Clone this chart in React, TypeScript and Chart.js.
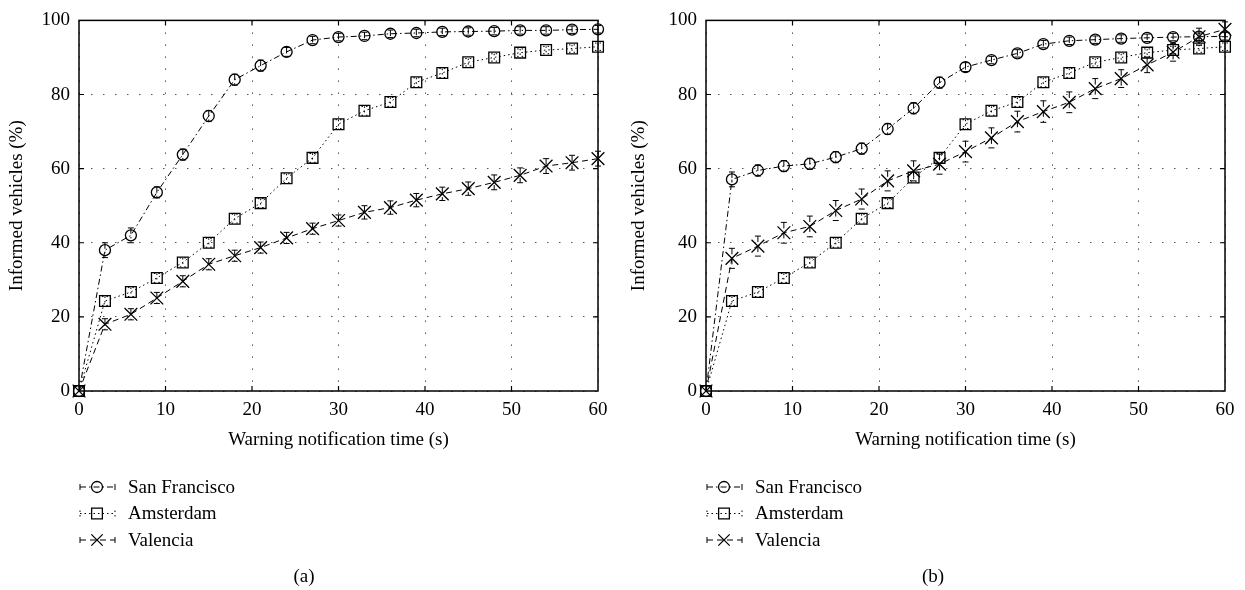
import React, { useEffect, useRef } from 'react';
import { Chart, registerables } from 'chart.js';

Chart.register(...registerables);

// ---------------- data ----------------
const times = [0, 3, 6, 9, 12, 15, 18, 21, 24, 27, 30, 33, 36, 39, 42, 45, 48, 51, 54, 57, 60];
const seriesNames = ['San Francisco', 'Amsterdam', 'Valencia'];
const xTicks = [0, 10, 20, 30, 40, 50, 60];
const yTicks = [0, 20, 40, 60, 80, 100];

// panel (a)
const sfA = [0, 38, 42, 53.6, 63.8, 74.2, 84, 87.8, 91.5, 94.7, 95.5, 95.8, 96.4, 96.6, 96.9, 97, 97.1, 97.3, 97.3, 97.5, 97.6];
const amsA = [0, 24.3, 26.7, 30.5, 34.7, 40, 46.5, 50.7, 57.4, 62.9, 72, 75.6, 78, 83.3, 85.8, 88.7, 90, 91.3, 92, 92.4, 92.9];
const valA = [0, 18, 20.7, 25.1, 29.6, 34.2, 36.5, 38.7, 41.3, 43.8, 46, 48.2, 49.5, 51.5, 53.2, 54.6, 56.3, 58.2, 60.7, 61.6, 62.7];
const sfErrA = [0, 2, 2, 1.5, 1.5, 1.5, 1.5, 1.5, 1.2, 1, 1, 1, 1, 1, 1, 1, 1, 1, 1, 1, 1];
const amsErrA = [0, 1.2, 1.2, 1.2, 1.2, 1.2, 1.2, 1.2, 1.2, 1.2, 1.2, 1.2, 1.2, 1.2, 1.2, 1, 1, 1, 1, 1, 1];
const valErrA = [0, 1.5, 1.5, 1.5, 1.5, 1.5, 1.5, 1.5, 1.5, 1.5, 1.5, 1.8, 1.8, 1.8, 1.8, 1.8, 2, 2, 2, 2, 2];

// panel (b)
const sfB = [0, 57.1, 59.5, 60.7, 61.3, 63.1, 65.4, 70.7, 76.3, 83.2, 87.4, 89.3, 91.1, 93.6, 94.5, 94.8, 95.1, 95.3, 95.5, 95.6, 95.7];
const amsB = [0, 24.3, 26.7, 30.5, 34.7, 40, 46.5, 50.7, 57.6, 62.9, 72, 75.6, 78, 83.3, 85.8, 88.7, 90, 91.3, 92, 92.4, 92.9];
const valB = [0, 35.8, 39.1, 42.7, 44.4, 48.7, 51.8, 56.7, 59.4, 61.2, 64.6, 68.3, 72.7, 75.4, 77.9, 81.6, 84.3, 88, 91.4, 95.6, 97.6];
const sfErrB = [0, 2, 1.5, 1.5, 1.5, 1.5, 1.5, 1.5, 1.5, 1.5, 1.2, 1, 1, 1, 1, 1, 1, 1, 1, 1, 1];
const amsErrB = [0, 1.2, 1.2, 1.2, 1.2, 1.2, 1.2, 1.2, 1.2, 1.2, 1.2, 1.2, 1.2, 1.2, 1.2, 1, 1, 1, 1, 1, 1];
const valErrB = [0, 2.7, 2.7, 2.8, 2.8, 2.7, 2.7, 2.7, 2.7, 2.7, 2.8, 2.7, 2.8, 2.9, 2.8, 2.7, 2.4, 2.1, 2.4, 2.3, 2];

// ---------------- styles ----------------
const FONT_FAMILY = "'Liberation Serif', 'Times New Roman', serif";
const FONT_SIZE = 19;
const seriesStyles = [
  { dash: [6, 3, 1.5, 3], point: 'circle', radius: 5.5 },
  { dash: [1.5, 3], point: 'rect', radius: 7.6 },
  { dash: [6, 4], point: 'crossRot', radius: 9 },
];

function drawMarker(ctx: CanvasRenderingContext2D, style: string, r: number, x: number, y: number) {
  ctx.beginPath();
  if (style === 'circle') {
    ctx.arc(x, y, r, 0, Math.PI * 2);
  } else if (style === 'rect') {
    const s = Math.SQRT1_2 * r;
    ctx.rect(x - s, y - s, 2 * s, 2 * s);
  } else {
    const o = Math.SQRT1_2 * r;
    ctx.moveTo(x - o, y - o);
    ctx.lineTo(x + o, y + o);
    ctx.moveTo(x + o, y - o);
    ctx.lineTo(x - o, y + o);
  }
  ctx.stroke();
}

const errorBarPlugin = {
  id: 'errorBars',
  afterDatasetsDraw(chart: any) {
    const { ctx, scales } = chart;
    const xs = scales.x;
    const ys = scales.y;
    ctx.save();
    ctx.strokeStyle = '#000';
    ctx.lineWidth = 1;
    chart.data.datasets.forEach((ds: any) => {
      const errs: number[] = ds.errors || [];
      ctx.setLineDash(ds.borderDash || []);
      ds.data.forEach((p: any, i: number) => {
        const e = errs[i];
        if (!e) return;
        const px = xs.getPixelForValue(p.x);
        const top = ys.getPixelForValue(p.y + e);
        const bot = ys.getPixelForValue(p.y - e);
        ctx.beginPath();
        ctx.moveTo(px, top);
        ctx.lineTo(px, bot);
        ctx.moveTo(px - 3, top);
        ctx.lineTo(px + 3, top);
        ctx.moveTo(px - 3, bot);
        ctx.lineTo(px + 3, bot);
        ctx.stroke();
      });
    });
    ctx.restore();
  },
};

const framePlugin = {
  id: 'frame',
  afterDraw(chart: any) {
    const { ctx, chartArea, scales } = chart;
    const { left, right, top, bottom } = chartArea;
    const opts = chart.options.plugins.frame || {};
    ctx.save();
    ctx.setLineDash([]);
    ctx.strokeStyle = '#000';
    // inward ticks
    ctx.lineWidth = 1.2;
    ctx.beginPath();
    scales.x.ticks.forEach((t: any) => {
      const px = scales.x.getPixelForValue(t.value);
      if (px <= left + 1 || px >= right - 1) return;
      ctx.moveTo(px, bottom);
      ctx.lineTo(px, bottom - 5);
      ctx.moveTo(px, top);
      ctx.lineTo(px, top + 5);
    });
    scales.y.ticks.forEach((t: any) => {
      const py = scales.y.getPixelForValue(t.value);
      if (py <= top + 1 || py >= bottom - 1) return;
      ctx.moveTo(left, py);
      ctx.lineTo(left + 5, py);
      ctx.moveTo(right, py);
      ctx.lineTo(right - 5, py);
    });
    ctx.stroke();
    // box
    ctx.lineWidth = 1.5;
    ctx.strokeRect(left, top, right - left, bottom - top);

    // legend
    ctx.font = `${FONT_SIZE}px ${FONT_FAMILY}`;
    ctx.fillStyle = '#000';
    ctx.textAlign = 'left';
    ctx.textBaseline = 'middle';
    chart.data.datasets.forEach((ds: any, i: number) => {
      const st = seriesStyles[i];
      const y = bottom + 96 + i * 26.5;
      const x0 = left + 1;
      const x1 = left + 36;
      const xm = left + 18;
      ctx.lineWidth = 1;
      ctx.setLineDash(st.dash);
      ctx.beginPath();
      ctx.moveTo(x0, y);
      ctx.lineTo(x1, y);
      ctx.moveTo(x0, y - 3);
      ctx.lineTo(x0, y + 3);
      ctx.moveTo(x1, y - 3);
      ctx.lineTo(x1, y + 3);
      ctx.stroke();
      ctx.setLineDash([]);
      ctx.lineWidth = 1.3;
      drawMarker(ctx, st.point, st.point === 'crossRot' ? 8 : st.radius, xm, y);
      ctx.fillText(ds.label, left + 49, y + 1);
    });

    // caption
    ctx.textAlign = 'center';
    ctx.fillText(opts.caption || '', opts.captionX || 0, 577);
    ctx.restore();
  },
};

type PanelProps = {
  values: number[][];
  errors: number[][];
  caption: string;
  captionX: number;
  yAxisWidth: number;
  padRight: number;
  width: number;
  left: number;
};

function Panel(props: PanelProps) {
  const ref = useRef<HTMLCanvasElement | null>(null);
  useEffect(() => {
    if (!ref.current) return;
    const font = { family: FONT_FAMILY, size: FONT_SIZE };
    const datasets = seriesNames.map((name, i) => ({
      label: name,
      data: times.map((t, k) => ({ x: t, y: props.values[i][k] })),
      errors: props.errors[i],
      borderColor: '#000',
      borderWidth: 1,
      borderDash: seriesStyles[i].dash,
      pointStyle: seriesStyles[i].point,
      pointRadius: seriesStyles[i].radius,
      pointBorderColor: '#000',
      pointBackgroundColor: 'rgba(0,0,0,0)',
      pointBorderWidth: 1.3,
      tension: 0,
      fill: false,
      clip: false,
    }));
    const chart = new Chart(ref.current, {
      type: 'line',
      data: { datasets } as any,
      options: {
        animation: false,
        responsive: false,
        events: [],
        layout: { padding: { top: 16, right: props.padRight, bottom: 137, left: 0 } },
        plugins: {
          legend: { display: false },
          tooltip: { enabled: false },
          frame: { caption: props.caption, captionX: props.captionX },
        } as any,
        scales: {
          x: {
            type: 'linear',
            min: 0,
            max: 60,
            afterBuildTicks: (s: any) => {
              s.ticks = xTicks.map((v) => ({ value: v }));
            },
            afterFit: (s: any) => {
              s.height = 62;
            },
            grid: { color: '#555', lineWidth: 1, drawTicks: false },
            border: { display: false, dash: [1.5, 10.5] },
            ticks: { color: '#000', font, padding: 8, maxRotation: 0 },
            title: {
              display: true,
              text: 'Warning notification time (s)',
              color: '#000',
              font,
              padding: { top: 2, bottom: 2 },
            },
          },
          y: {
            type: 'linear',
            min: 0,
            max: 100,
            afterBuildTicks: (s: any) => {
              s.ticks = yTicks.map((v) => ({ value: v }));
            },
            afterFit: (s: any) => {
              s.width = props.yAxisWidth;
            },
            grid: { color: '#555', lineWidth: 1, drawTicks: false },
            border: { display: false, dash: [1.5, 10.5] },
            ticks: { color: '#000', font, padding: 9 },
            title: {
              display: true,
              text: 'Informed vehicles (%)',
              color: '#000',
              font,
              padding: 6,
            },
          },
        },
      } as any,
      plugins: [errorBarPlugin, framePlugin],
    });
    return () => chart.destroy();
  }, []);
  return (
    <canvas
      ref={ref}
      width={props.width}
      height={590}
      style={{ position: 'absolute', left: props.left, top: 0, width: props.width, height: 590 }}
    />
  );
}

export default function App() {
  return (
    <div style={{ position: 'absolute', left: 0, top: 0, width: 1245, height: 590, background: '#fff' }}>
      <Panel
        values={[sfA, amsA, valA]}
        errors={[sfErrA, amsErrA, valErrA]}
        caption="(a)"
        captionX={304}
        yAxisWidth={79}
        padRight={24}
        width={622}
        left={0}
      />
      <Panel
        values={[sfB, amsB, valB]}
        errors={[sfErrB, amsErrB, valErrB]}
        caption="(b)"
        captionX={311}
        yAxisWidth={84}
        padRight={20}
        width={623}
        left={622}
      />
    </div>
  );
}
